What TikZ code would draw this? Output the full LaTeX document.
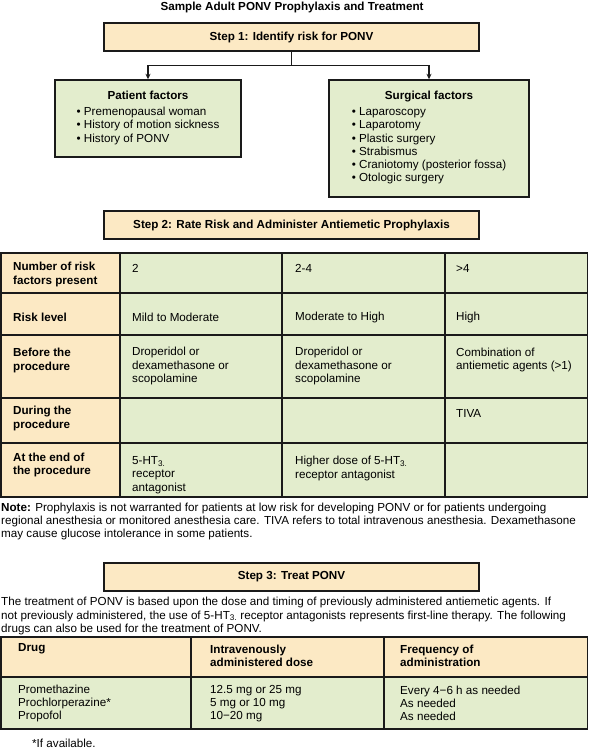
\documentclass[tikz,border=0pt]{standalone}
\usepackage{fontspec}
\setmainfont{Liberation Sans}
\usepackage{xcolor}
\usetikzlibrary{arrows.meta,positioning}
\definecolor{stepfill}{HTML}{FCE9C4}
\definecolor{factorfill}{HTML}{E3EDCD}
\definecolor{linegray}{HTML}{1A1A1A}
\newcommand{\txtsize}{\fontsize{11.7}{13.3}\selectfont}
\newcommand{\hthree}{5-HT\textsubscript{3.}}
\tikzset{every node/.style={font=\txtsize}}

\begin{document}
\begin{tikzpicture}[
    x=1bp, y=-1bp,
    >={Stealth[length=5.5bp,width=5bp]},
    stepbox/.style={rectangle, draw=linegray, line width=1.4bp, fill=stepfill, minimum width=375bp, minimum height=28bp, font=\txtsize\bfseries},
    factorbox/.style={rectangle, draw=linegray, line width=1.4bp, fill=factorfill, align=center, inner sep=0pt},
    cell/.style={anchor=west, align=left, inner sep=0pt},
    headcell/.style={cell, font=\txtsize\bfseries},
    grid/.style={draw=linegray, line width=1.6bp}
]
\useasboundingbox (0,0) rectangle (589,750);

\node (title) at (292,7) {\bfseries Sample Adult PONV Prophylaxis and Treatment};

% step 1 and the risk factors
\node (step1) [stepbox] at (291.5,37) {Step 1: Identify risk for PONV};

\node (patient) [factorbox, minimum width=186bp, minimum height=77bp] at (148,118.5)
  {\textbf{Patient factors}\\[3bp]
   \begin{tabular}[t]{@{}l@{}}• Premenopausal woman\\ • History of motion sickness\\ • History of PONV\end{tabular}};

\node (surgical) [factorbox, minimum width=200bp, minimum height=117bp] at (429,138.5)
  {\textbf{Surgical factors}\\[3bp]
   \begin{tabular}[t]{@{}l@{}}• Laparoscopy\\ • Laparotomy\\ • Plastic surgery\\ • Strabismus\\ • Craniotomy (posterior fossa)\\ • Otologic surgery\end{tabular}};

\coordinate (split) at ([yshift=-14bp]step1.south);
\draw[draw=linegray, line width=1.3bp] (step1.south) -- (split);
\draw[->, draw=linegray, line width=1.3bp] (split) -| (patient.north);
\draw[->, draw=linegray, line width=1.3bp] (split) -| (surgical.north);

% step 2 and the prophylaxis table
\node (step2) [stepbox] at (291.5,225) {Step 2: Rate Risk and Administer Antiemetic Prophylaxis};

\fill[stepfill] (0.8,253) rectangle (120,497);
\fill[factorfill] (120,253) rectangle (587.5,497);
\foreach \y in {293,335,398,443}
  \draw[grid] (0.8,\y) -- (587.5,\y);
\foreach \x in {120,282,445}
  \draw[grid] (\x,253) -- (\x,497);
\draw[grid] (0.8,253) rectangle (587.5,497);

\node (numhead) [headcell] at (13,274.5) {Number of risk\\[1.5bp]factors present};
\node (num2) [cell] at (132,268) {2};
\node (num3) [cell] at (295,268) {2-4};
\node (num4) [cell] at (456,268) {>4};

\node (levelhead) [headcell] at (13,317) {Risk level};
\node (level2) [cell] at (132,317) {Mild to Moderate};
\node (level3) [cell] at (295,317) {Moderate to High};
\node (level4) [cell] at (456,317) {High};

\node (beforehead) [headcell] at (13,360.5) {Before the\\procedure};
\node (before2) [cell] at (132,366) {Droperidol or\\dexamethasone or\\scopolamine};
\node (before3) [cell] at (295,366) {Droperidol or\\dexamethasone or\\scopolamine};
\node (before4) [cell] at (456,360) {Combination of\\antiemetic agents (>1)};

\node (duringhead) [headcell] at (13,418.5) {During the\\procedure};
\node (during4) [cell] at (456,413) {TIVA};

\node (endhead) [headcell] at (13,465) {At the end of\\the procedure};
\node (end2) [cell] at (132,475) {\hthree\\receptor\\antagonist};
\node (end3) [cell] at (295,468.5) {Higher dose of \hthree\\receptor antagonist};

\node (note) [cell] at (1,521.7)
  {\textbf{Note:} Prophylaxis is not warranted for patients at low risk for developing PONV or for patients undergoing\\
   regional anesthesia or monitored anesthesia care. TIVA refers to total intravenous anesthesia. Dexamethasone\\
   may cause glucose intolerance in some patients.};

% step 3 and the treatment table
\node (step3) [stepbox] at (291.5,577) {Step 3: Treat PONV};

\node (treatment) [cell] at (1,616)
  {The treatment of PONV is based upon the dose and timing of previously administered antiemetic agents. If\\
   not previously administered, the use of \hthree{} receptor antagonists represents first-line therapy. The following\\
   drugs can also be used for the treatment of PONV.};

\fill[stepfill] (0.8,637) rectangle (587.5,677);
\fill[factorfill] (0.8,677) rectangle (587.5,729);
\draw[grid] (0.8,677) -- (587.5,677);
\foreach \x in {191,384}
  \draw[grid] (\x,637) -- (\x,729);
\draw[grid] (0.8,637) rectangle (587.5,729);

\node (drughead) [headcell] at (18,649) {Drug};
\node (dosehead) [headcell] at (210,655.5) {Intravenously\\administered dose};
\node (freqhead) [headcell] at (400,655.5) {Frequency of\\administration};

\node (drugs) [cell] at (18,703.5) {Promethazine\\Prochlorperazine*\\Propofol};
\node (doses) [cell] at (210,703.5) {12.5 mg or 25 mg\\5 mg or 10 mg\\10−20 mg};
\node (freqs) [cell] at (400,703.5) {Every 4−6 h as needed\\As needed\\As needed};

\node (footnote) [cell] at (32,743) {*If available.};

\end{tikzpicture}
\end{document}
